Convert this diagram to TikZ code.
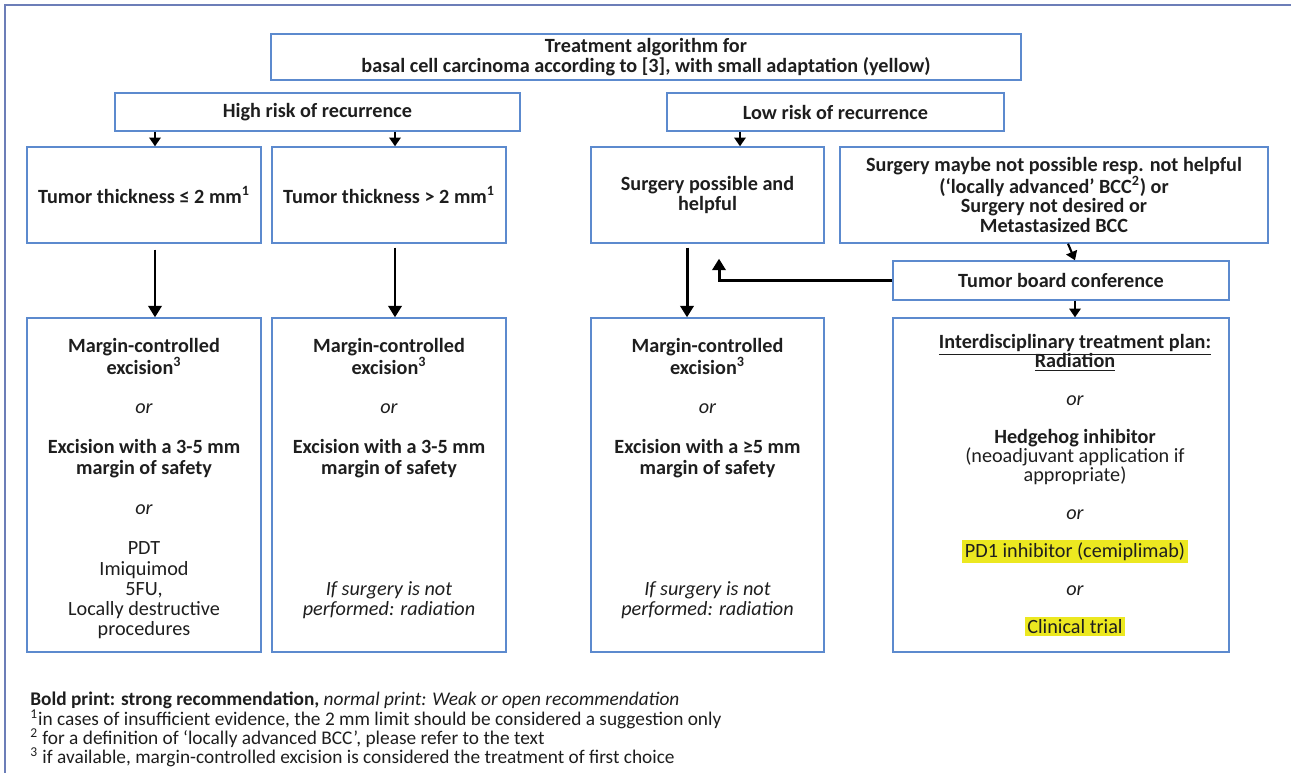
\documentclass[tikz,border=0pt]{standalone}
\usepackage{fontspec}
\setmainfont{Carlito}
\usetikzlibrary{arrows.meta}
\definecolor{framecol}{RGB}{108,126,184}
\definecolor{boxcol}{RGB}{92,138,206}
\definecolor{inkcol}{RGB}{30,30,30}
\definecolor{markyellow}{RGB}{236,232,32}
\newcommand{\yellowmark}[1]{{\setlength{\fboxsep}{1.5pt}\colorbox{markyellow}{#1}}}

\begin{document}
\begin{tikzpicture}[x=0.02cm,y=-0.02cm,
    every node/.style={font=\fontsize{11.5}{11.5}\selectfont,align=center,inner sep=0pt,text=inkcol,
        execute at begin node={\lineskiplimit=-20pt}},
    box/.style={draw=boxcol,line width=0.8pt},
    arr/.style={line width=1.7pt,-{Triangle[length=6.5pt,width=7.5pt]}},
    shortarr/.style={line width=1.2pt,-{Triangle[length=5pt,width=6.5pt]}}]
    \useasboundingbox (0,0) rectangle (1291,773);
    \draw[framecol,line width=1.2pt] (5,773) -- (5,5) -- (1291,5);

    % top rows
    \node[box,minimum width=15cm,minimum height=0.92cm] (title) at (646,57)
        {\textbf{Treatment algorithm for}\\\textbf{basal cell carcinoma according to [3], with small adaptation (yellow)}};
    \node[box,minimum width=8.1cm,minimum height=0.76cm] (high) at (317.5,112) {\textbf{High risk of recurrence}};
    \node[box,minimum width=6.74cm,minimum height=0.76cm] (low) at (835.5,112) {\textbf{Low risk of recurrence}};

    \node[box,minimum width=4.68cm,minimum height=1.92cm] (thin) at (144,195)
        {\textbf{Tumor thickness ≤ 2 mm\textsuperscript{1}}};
    \node[box,minimum width=4.68cm,minimum height=1.92cm] (thick) at (389,195)
        {\textbf{Tumor thickness > 2 mm\textsuperscript{1}}};
    \node[box,minimum width=4.66cm,minimum height=1.92cm] (possible) at (707.5,195)
        {\textbf{Surgery possible and}\\\textbf{helpful}};
    \node[box,minimum width=8.56cm,minimum height=1.92cm] (notposs) at (1054,195)
        {\textbf{Surgery maybe not possible resp. not helpful}\\[0.8pt]
         \textbf{(‘locally advanced’ BCC\textsuperscript{2}) or}\\[-0.8pt]
         \textbf{Surgery not desired or}\\
         \textbf{Metastasized BCC}};
    \node[box,minimum width=6.72cm,minimum height=0.78cm] (board) at (1061,280.5) {\textbf{Tumor board conference}};

    % treatment boxes
    \node[box,minimum width=4.68cm,minimum height=6.68cm] (treatA) at (144,485) {};
    \node[box,minimum width=4.68cm,minimum height=6.68cm] (treatB) at (389,485) {};
    \node[box,minimum width=4.66cm,minimum height=6.68cm] (treatC) at (707.5,485) {};
    \node[box,minimum width=6.72cm,minimum height=6.68cm] (treatD) at (1061,485) {};

    \node[anchor=north] at ([yshift=-0.42cm]treatA.north)
        {\textbf{Margin-controlled}\\[0.8pt]\textbf{excision\textsuperscript{3}}\\[10.7pt]
         \textit{or}\\[11.5pt]
         \textbf{Excision with a 3-5 mm}\\\textbf{margin of safety}\\[11.5pt]
         \textit{or}\\[11.5pt]
         PDT\\Imiquimod\\5FU,\\Locally destructive\\procedures};
    \node[anchor=north] at ([yshift=-0.42cm]treatB.north)
        {\textbf{Margin-controlled}\\[0.8pt]\textbf{excision\textsuperscript{3}}\\[10.7pt]
         \textit{or}\\[11.5pt]
         \textbf{Excision with a 3-5 mm}\\\textbf{margin of safety}\\[57.5pt]
         \textit{If surgery is not}\\\textit{performed: radiation}};
    \node[anchor=north] at ([yshift=-0.42cm]treatC.north)
        {\textbf{Margin-controlled}\\[0.8pt]\textbf{excision\textsuperscript{3}}\\[10.7pt]
         \textit{or}\\[11.5pt]
         \textbf{Excision with a ≥5 mm}\\\textbf{margin of safety}\\[57.5pt]
         \textit{If surgery is not}\\\textit{performed: radiation}};
    \node[anchor=north,font=\fontsize{11.5}{10.8}\selectfont] at ([xshift=0.28cm,yshift=-0.34cm]treatD.north)
        {\textbf{\underline{Interdisciplinary treatment plan:}}\\\textbf{\underline{Radiation}}\\[10.8pt]
         \textit{or}\\[10.8pt]
         \textbf{Hedgehog inhibitor}\\(neoadjuvant application if\\appropriate)\\[10.8pt]
         \textit{or}\\[10.8pt]
         \yellowmark{PD1 inhibitor (cemiplimab)}\\[10.8pt]
         \textit{or}\\[10.8pt]
         \yellowmark{Clinical trial}};

    % connectors
    \coordinate (inA) at ([xshift=0.22cm]thin.north);
    \coordinate (inB) at ([xshift=0.12cm]thick.north);
    \coordinate (inC) at ([xshift=0.65cm]possible.north);
    \draw[shortarr] (high.south -| inA) -- (inA);
    \draw[shortarr] (high.south -| inB) -- (inB);
    \draw[shortarr] (low.south -| inC) -- (inC);
    \draw[arr] ([xshift=0.22cm,yshift=-0.12cm]thin.south) -- ([xshift=0.22cm]treatA.north);
    \draw[arr] ([xshift=0.12cm,yshift=-0.08cm]thick.south) -- ([xshift=0.12cm]treatB.north);
    \draw[arr] ([xshift=-0.41cm,yshift=-0.08cm]possible.south) -- ([xshift=-0.41cm]treatC.north);
    \draw[shortarr] ([xshift=0.28cm]notposs.south) -- ([xshift=0.28cm]board.north);
    \draw[shortarr] ([xshift=0.28cm]board.south) -- ([xshift=0.28cm]treatD.north);
    \coordinate (back) at ([xshift=0.23cm,yshift=-0.3cm]possible.south);
    \draw[arr] (board.west) -| (back);

    % footnotes
    \node[anchor=north west,align=left,font=\fontsize{11}{11}\selectfont] (notes) at (30,692)
        {\textbf{Bold print: strong recommendation,} \textit{normal print: Weak or open recommendation}\\
         \textsuperscript{1}in cases of insufficient evidence, the 2 mm limit should be considered a suggestion only\\
         \textsuperscript{2} for a definition of ‘locally advanced BCC’, please refer to the text\\
         \textsuperscript{3} if available, margin-controlled excision is considered the treatment of first choice};
\end{tikzpicture}
\end{document}
